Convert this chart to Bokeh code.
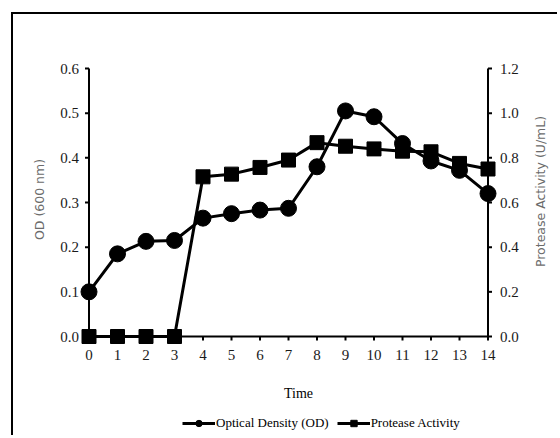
import math
from bokeh.plotting import figure
from bokeh.models import Range1d, Legend, LegendItem
from bokeh.core.properties import value
from bokeh.embed import file_html
from bokeh.resources import INLINE

time = list(range(15))
od = [0.10, 0.185, 0.213, 0.215, 0.265, 0.275, 0.283, 0.287, 0.38, 0.505, 0.492, 0.432, 0.393, 0.372, 0.32]
protease = [0.0, 0.0, 0.0, 0.0, 0.715, 0.727, 0.757, 0.79, 0.868, 0.852, 0.84, 0.83, 0.827, 0.775, 0.75]
od_ticks = [0.0, 0.1, 0.2, 0.3, 0.4, 0.5, 0.6]
pa_ticks = [0.0, 0.2, 0.4, 0.6, 0.8, 1.0, 1.2]
od_labels = [f"{v:.1f}" for v in od_ticks]
pa_labels = [f"{v:.1f}" for v in pa_ticks]
time_labels = [str(t) for t in time]

SERIF = "Liberation Serif"
SANS = "DejaVu Sans"

# layout (pixels, relative to the canvas)
W, H = 546, 423
AX_LEFT, AX_RIGHT = 75.5, 474.5     # where x = first/last time sit
AX_TOP, AX_BOTTOM = 54, 322         # where the axes' top / zero sit
TICK_PX = 4

x0, x1 = time[0], time[-1]
ppx = (AX_RIGHT - AX_LEFT) / (x1 - x0)
xmin = x0 - AX_LEFT / ppx
xmax = xmin + W / ppx
od_top, pa_top = od_ticks[-1], pa_ticks[-1]
ppy = (AX_BOTTOM - AX_TOP) / od_top
ymax = od_top + AX_TOP / ppy
ymin = ymax - H / ppy
k = pa_top / od_top

p = figure(width=W, height=H, margin=(12, 0, 0, 11),
           x_range=Range1d(xmin, xmax), y_range=Range1d(ymin, ymax),
           output_backend="svg", toolbar_location=None,
           min_border_left=0, min_border_right=0, min_border_top=0, min_border_bottom=0)
p.styles = {"border-top": "2px solid #000", "border-left": "2px solid #000"}
p.outline_line_color = None
p.xaxis.visible = False
p.yaxis.visible = False
p.xgrid.visible = False
p.ygrid.visible = False
p.extra_y_ranges = {"pa": Range1d(ymin * k, ymax * k)}

# axis lines
p.segment(x0=[x0, x1, x0], y0=[0, 0, 0], x1=[x0, x1, x1], y1=[od_top, od_top, 0],
          line_color="#000", line_width=2)
# outward ticks
tdx = TICK_PX / ppx
tdy = TICK_PX / ppy
p.segment(x0=[x0 - tdx] * len(od_ticks), y0=od_ticks, x1=[x0] * len(od_ticks), y1=od_ticks,
          line_color="#000", line_width=2)
p.segment(x0=[x1] * len(pa_ticks), y0=pa_ticks, x1=[x1 + tdx] * len(pa_ticks), y1=pa_ticks,
          y_range_name="pa", line_color="#000", line_width=2)
p.segment(x0=time, y0=[0] * len(time), x1=time, y1=[-tdy] * len(time),
          line_color="#000", line_width=2)

# tick labels
p.text(x=[x0] * len(od_ticks), y=od_ticks, text=od_labels, x_offset=-10,
       text_align="right", text_baseline="middle",
       text_font=value(SERIF), text_font_size="15px", text_color="#1a1a1a")
p.text(x=[x1] * len(pa_ticks), y=pa_ticks, text=pa_labels, x_offset=12, y_range_name="pa",
       text_align="left", text_baseline="middle",
       text_font=value(SERIF), text_font_size="15px", text_color="#1a1a1a")
p.text(x=time, y=[0] * len(time), text=time_labels, y_offset=13,
       text_align="center", text_baseline="top",
       text_font=value(SERIF), text_font_size="15px", text_color="#1a1a1a")

# axis titles
p.text(x=[x0], y=[od_top / 2], text=["OD (600 nm)"], x_offset=-50, y_offset=-3,
       angle=math.pi / 2, text_align="center", text_baseline="middle",
       text_font=value(SANS), text_font_size="12.5px", text_color="#6b6b6b")
p.text(x=[x1], y=[pa_top / 2], text=["Protease Activity  (U/mL)"], y_range_name="pa",
       x_offset=52, y_offset=-13, angle=math.pi / 2, text_align="center", text_baseline="middle",
       text_font=value(SANS), text_font_size="12.5px", text_color="#6b6b6b")
p.text(x=[(x0 + x1) / 2], y=[0], text=["Time"], x_offset=10, y_offset=57,
       text_align="center", text_baseline="middle",
       text_font=value(SERIF), text_font_size="14px", text_color="#000")

# data
l1 = p.line(time, od, line_color="#000", line_width=3)
s1 = p.scatter(time, od, marker="circle", size=16, fill_color="#000", line_color="#000")
l2 = p.line(time, protease, y_range_name="pa", line_color="#000", line_width=3)
s2 = p.scatter(time, protease, y_range_name="pa", marker="square", size=14,
               fill_color="#000", line_color="#000")

legend = Legend(items=[LegendItem(label="Optical Density (OD)", renderers=[l1, s1]),
                       LegendItem(label="Protease Activity", renderers=[l2, s2])],
                orientation="horizontal", location=(169, 6),
                glyph_width=33, glyph_height=16, label_standoff=1, spacing=8,
                padding=0, margin=0, border_line_color=None, background_fill_alpha=0,
                label_text_font=SERIF, label_text_font_size="13px", label_text_color="#000")
p.add_layout(legend, "center")

open("out.html", "w").write(file_html(p, INLINE))
